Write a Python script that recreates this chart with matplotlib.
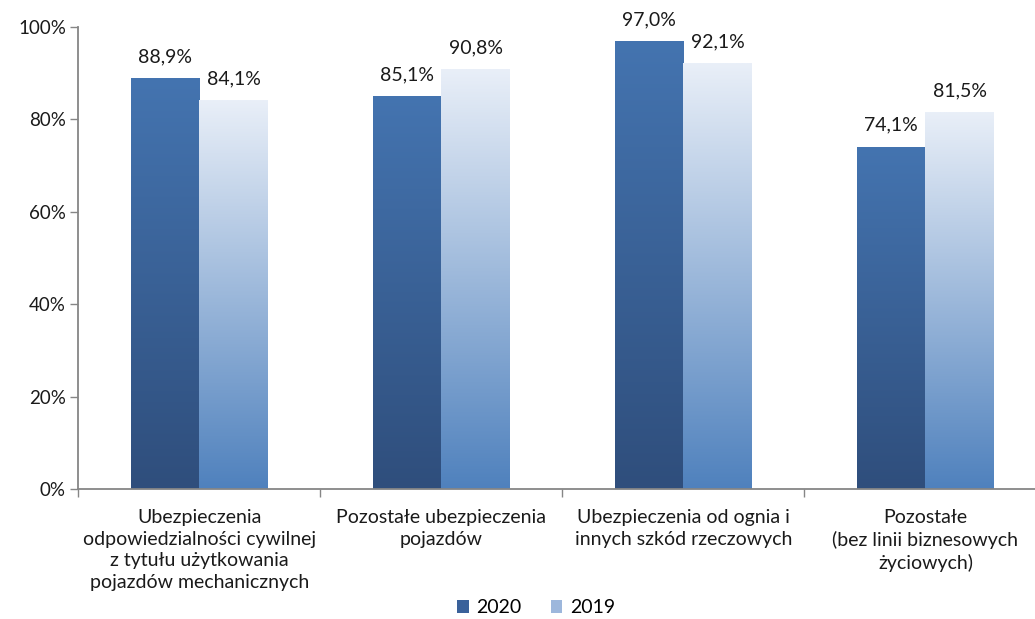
import numpy as np
import matplotlib.pyplot as plt
from matplotlib.colors import LinearSegmentedColormap
from matplotlib.patches import Patch

plt.switch_backend('agg')
plt.rcParams['font.family'] = ['Lato', 'DejaVu Sans']

categories = [
    'Ubezpieczenia\nodpowiedzialności cywilnej\nz tytułu użytkowania\npojazdów mechanicznych',
    'Pozostałe ubezpieczenia\npojazdów',
    'Ubezpieczenia od ognia i\ninnych szkód rzeczowych',
    'Pozostałe\n(bez linii biznesowych\nżyciowych)',
]
vals_2020 = [88.9, 85.1, 97.0, 74.1]
vals_2019 = [84.1, 90.8, 92.1, 81.5]
series_names = ['2020', '2019']
yticks = [0, 20, 40, 60, 80, 100]

# gradients: bottom colour -> top colour
cmap_2020 = LinearSegmentedColormap.from_list('c2020', ['#2f4e7c', '#4474b0'])
cmap_2019 = LinearSegmentedColormap.from_list('c2019', ['#4f81bd', '#e9eff8'])

fig = plt.figure(figsize=(10.35, 6.19), dpi=100)
# axis runs past the right edge of the image, like in the original
ax = fig.add_axes([0.0758, 0.21, 0.9353, 0.7464])

x = np.arange(len(categories))
w = 0.283
grad = np.linspace(0, 1, 256).reshape(-1, 1)
fs = 14

for vals, cmap, off in [(vals_2020, cmap_2020, -w / 2), (vals_2019, cmap_2019, w / 2)]:
    bars = ax.bar(x + off, vals, w, color='none', edgecolor='none')
    for b, v in zip(bars, vals):
        x0 = b.get_x()
        im = ax.imshow(grad, cmap=cmap, origin='lower', aspect='auto',
                       extent=[x0, x0 + w, 0, v], zorder=2)
        im.set_clip_path(b)
        ax.text(x0 + w / 2, v + 2.8, f'{v:.1f}%'.replace('.', ','),
                ha='center', va='bottom', fontsize=fs, color='#1a1a1a')

ax.set_xlim(-0.5, len(categories) - 0.5)
ax.set_ylim(0, 100)
ax.set_yticks(yticks)
ax.set_yticklabels([f'{t}%' for t in yticks], fontsize=13.5, color='#1a1a1a')
ax.set_xticks(np.arange(len(categories) + 1) - 0.5)
ax.set_xticklabels([])
ax.tick_params(axis='x', length=6, color='#868686', width=1)
ax.tick_params(axis='y', length=6, color='#868686', width=1, pad=3)
for i, c in enumerate(categories):
    ax.text(i, -4.4, c, ha='center', va='top', fontsize=fs, color='#1a1a1a',
            linespacing=1.32)

for s in ['top', 'right']:
    ax.spines[s].set_visible(False)
ax.spines['left'].set_color('#868686')
ax.spines['bottom'].set_color('#868686')
ax.spines['left'].set_linewidth(1.3)
ax.spines['bottom'].set_linewidth(1.3)

handles = [Patch(facecolor='#3a619a', edgecolor='none'),
           Patch(facecolor='#9db7dc', edgecolor='none')]
fig.legend(handles, series_names, loc='center', bbox_to_anchor=(0.518, 0.018),
           ncol=2, frameon=False, fontsize=fs, handlelength=0.6, handleheight=0.6,
           columnspacing=1.5, handletextpad=0.4)

plt.savefig('out.png', dpi=100)
